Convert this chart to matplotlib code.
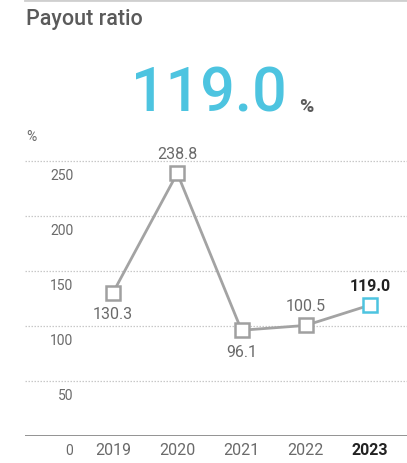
import matplotlib
matplotlib.use("Agg")
import matplotlib.pyplot as plt
from matplotlib.lines import Line2D

years = [2019, 2020, 2021, 2022, 2023]
values = [130.3, 238.8, 96.1, 100.5, 119.0]
label_pos = ["below", "above", "below", "above", "above"]
yticks = [0, 50, 100, 150, 200, 250]
headline = "119.0"

W, H = 407, 464
fig = plt.figure(figsize=(W / 100, H / 100), dpi=100)
plt.rcParams['font.family'] = ['Roboto', 'DejaVu Sans']

GRAY_TXT = "#5a5a5a"
LINE_GRAY = "#a3a3a3"
CYAN = "#4dc4e0"

def fx(px):
    return px / W

def fy(py):
    return 1 - py / H

ax = fig.add_axes([fx(25), fy(437), fx(407) - fx(25), fy(130) - fy(437)])
ax.set_ylim(0, 279)
ax.set_xlim(2017.63, 2023.576)
for s in ax.spines.values():
    s.set_visible(False)
ax.set_xticks([])
ax.set_yticks([])

for t in yticks[1:]:
    ax.axhline(t, color="#c8c8c8", lw=0.9, ls=(0, (1.2, 1.2)), zorder=1)
ax.axhline(0, color="#8a8a8a", lw=1.3, zorder=1)

for t in yticks:
    ax.annotate(str(t), xy=(0.126, t), xycoords=('axes fraction', 'data'),
                xytext=(0, -14), textcoords='offset pixels',
                ha='right', va='center', fontsize=10, color="#6a6a6a")

for i, y in enumerate(years):
    last = i == len(years) - 1
    ax.annotate(str(y), xy=(y, 0), xycoords=('data', 'axes fraction'),
                xytext=(0, -14), textcoords='offset pixels',
                ha='center', va='center', fontsize=11.5,
                color="#222222" if last else "#6a6a6a",
                fontweight='bold' if last else 'normal')

ax.plot(years, values, color=LINE_GRAY, lw=2.0, zorder=3, clip_on=False)
ax.plot(years[:-1], values[:-1], ls='none', marker='s', ms=9.5, mfc='white',
        mec="#a0a0a0", mew=1.8, zorder=4, clip_on=False)
ax.plot(years[-1:], values[-1:], ls='none', marker='s', ms=9.5, mfc='white',
        mec=CYAN, mew=1.8, zorder=4, clip_on=False)

for i, (y, v, p) in enumerate(zip(years, values, label_pos)):
    last = i == len(years) - 1
    off = 20 if p == "above" else -21
    ax.annotate(f"{v:.1f}", xy=(y, v), xytext=(0, off), textcoords='offset pixels',
                ha='center', va='center', fontsize=11.5,
                color="#222222" if last else "#6a6a6a",
                fontweight='bold' if last else 'normal', zorder=5)

fig.add_artist(Line2D([fx(25), 1], [fy(1), fy(1)], color="#cfcfcf", lw=2))
fig.text(fx(26), fy(20), "Payout ratio", fontsize=15.5, fontweight='medium',
         color=GRAY_TXT, ha='left', va='center')
fig.text(fx(287), fy(112), headline, fontsize=44, fontweight='medium', color=CYAN,
         ha='right', va='baseline')
fig.text(fx(299), fy(112), "%", fontsize=14, fontweight='bold', color=GRAY_TXT,
         ha='left', va='baseline')
fig.text(fx(26), fy(137), "%", fontsize=10, color="#6a6a6a", ha='left', va='center')

fig.savefig("out.png", dpi=100)
